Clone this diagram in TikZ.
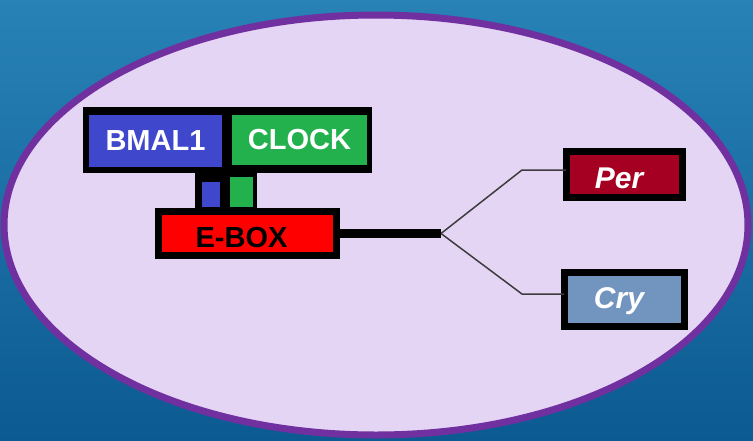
\documentclass[tikz,border=0pt]{standalone}
\usepackage{fontspec}
\setmainfont{Liberation Sans}
\definecolor{bgtop}{RGB}{40,130,182}
\definecolor{bgbot}{RGB}{12,90,146}
\definecolor{purp}{RGB}{112,48,160}
\definecolor{lav}{RGB}{229,213,245}
\definecolor{bmalc}{RGB}{63,72,204}
\definecolor{clockc}{RGB}{34,177,76}
\definecolor{perc}{RGB}{165,0,33}
\definecolor{cryc}{RGB}{114,149,192}
\definecolor{linec}{RGB}{60,60,60}
\begin{document}
\begin{tikzpicture}[x=1pt,y=-1pt,
  solid/.style={inner sep=0pt, outer sep=0pt},
  txt/.style={text=white, font=\bfseries\fontsize{29}{29}\selectfont},
  genebox/.style={draw=black, line width=7pt, inner sep=0pt, outer sep=0pt, text=white,
     font=\bfseries\itshape\fontsize{30}{30}\selectfont},
  thinline/.style={draw=linec, line width=1.5pt}]
\shade[top color=bgtop, bottom color=bgbot] (0,0) rectangle (753,440);
\useasboundingbox (0,0) rectangle (753,440);
\draw[line width=7pt, draw=purp, fill=lav] (376,225) ellipse [x radius=372pt, y radius=210pt];
% dimer
\node[solid, fill=black, minimum width=289pt, minimum height=66pt] (dimer) at (227.5,140) {};
\node[solid, txt, fill=bmalc, minimum width=133pt, minimum height=52pt] (bmal) at (155.5,141) {BMAL1};
\node[solid, txt, fill=clockc, minimum width=135pt, minimum height=50pt] (clock) at (299.5,140) {CLOCK};
% linker
\node[solid, fill=black, minimum width=62pt, minimum height=38pt] (link) at (226,191) {};
\node[solid, fill=bmalc, minimum width=18pt, minimum height=25pt] (lb) at (211,194.5) {};
\node[solid, fill=clockc, minimum width=23pt, minimum height=30pt] (lg) at (241.5,192) {};
% E-box
\node[genebox, fill=red, text=black, font=\bfseries\fontsize{29}{29}\selectfont,
      minimum width=178pt, minimum height=44pt] (ebox) at (247.5,233.5)
      {\raisebox{-14pt}[0pt][0pt]{E-BOX}\kern12pt};
% genes
\node[genebox, fill=perc, minimum width=116pt, minimum height=46pt] (per) at (624,174)
      {\raisebox{-14pt}[0pt][0pt]{Per}\kern10pt};
\node[genebox, fill=cryc, minimum width=120pt, minimum height=54pt] (cry) at (624,299)
      {\raisebox{-9pt}[0pt][0pt]{Cry}\kern10pt};
% connectors
\coordinate (branch) at (441,233.5);
\coordinate (pc) at (522,170);
\coordinate (cc) at (522,294);
\draw[line width=9pt] (ebox.east) -- (branch);
\draw[thinline] (branch) -- (pc) -- (pc -| per.west);
\draw[thinline] (branch) -- (cc) -- (cc -| cry.west);
\end{tikzpicture}
\end{document}
